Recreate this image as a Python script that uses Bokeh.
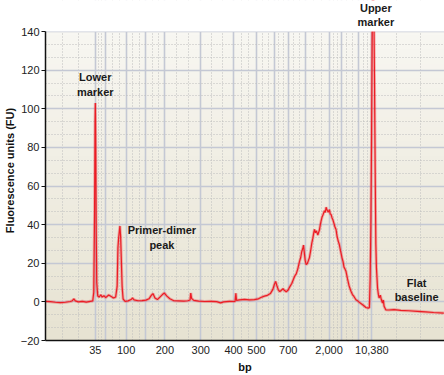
import numpy as np
from bokeh.plotting import figure
from bokeh.models import FixedTicker, Label, Range1d
from bokeh.embed import file_html
from bokeh.resources import INLINE

# Ladder: fragment sizes (bp) and their migration positions (s)
ladder_bp = [35, 50, 100, 150, 200, 300, 400, 500, 600, 700, 1000, 2000, 3000, 7000, 10380]
ladder_time = [50.0, 52.0, 56.2, 60.2, 64.0, 71.2, 77.8, 82.4, 86.0, 88.8, 92.2, 97.0, 99.4, 103.0, 105.6]
labelled_bp = {35: "35", 100: "100", 200: "200", 300: "300", 400: "400",
               500: "500", 700: "700", 2000: "2,000", 10380: "10,380"}

# Electropherogram trace: migration time (s) and fluorescence (FU)
trace_time = [40.0, 41.0, 42.0, 43.0, 44.0, 45.0, 45.4, 45.7, 46.0, 46.6, 47.4, 48.2, 49.0, 49.5,
              49.7, 49.86, 49.96, 50.02, 50.1, 50.2, 50.3, 50.5, 50.8, 51.1, 51.4, 51.74, 52.1, 52.7,
              53.2, 53.7, 54.1, 54.4, 54.56, 54.7, 54.86, 54.96, 55.1, 55.24, 55.4, 55.6, 56.0, 56.6,
              57.2, 57.5, 57.8, 58.6, 59.4, 60.2, 60.8, 61.3, 61.6, 62.0, 62.5, 63.0, 63.5, 63.9,
              64.4, 65.0, 65.8, 66.8, 67.8, 68.6, 69.06, 69.2, 69.36, 69.8, 70.8, 72.0, 73.2, 74.4,
              75.2, 75.8, 77.0, 78.1, 78.26, 78.4, 79.0, 80.0, 81.0, 82.0, 82.8, 83.4, 84.0, 84.6,
              85.2, 85.7, 86.0, 86.26, 86.5, 86.8, 87.1, 87.4, 87.74, 88.0, 88.4, 88.8, 89.1, 89.5,
              89.8, 90.1, 90.4, 90.7, 91.06, 91.3, 91.5, 91.7, 91.86, 92.0, 92.2, 92.4, 92.6, 92.86,
              93.06, 93.3, 93.5, 93.74, 93.9, 94.06, 94.26, 94.46, 94.74, 94.9, 95.06, 95.24, 95.4,
              95.6, 95.8, 96.06, 96.24, 96.4, 96.6, 96.86, 97.06, 97.24, 97.4, 97.6, 97.74, 98.0,
              98.2, 98.4, 98.6, 98.84, 99.06, 99.3, 99.6, 99.8, 100.0, 100.2, 100.4, 100.7, 101.0,
              101.4, 101.7, 102.0, 102.4, 102.8, 103.2, 103.6, 104.0, 104.4, 104.86, 105.1,
              105.26, 105.4, 105.54, 105.66, 105.76, 105.9, 106.04, 106.14, 106.26, 106.4, 106.52,
              106.74, 106.9, 107.06, 107.3, 107.5, 107.74, 107.9, 108.06, 108.4, 109.0, 110.06,
              111.4, 113.0, 114.74, 116.4, 118.0, 120.06]
trace_fu = [0.3, 0.1, -0.2, -0.4, -0.2, 0.2, 0.6, 1.6, 0.5, 0.0, 0.3, -0.1, 0.3, 0.5,
            5, 45, 93, 103, 80, 35, 10, 3, 2.5, 3.7, 2.5, 3.2, 2.2, 3.6,
            2.8, 2.0, 2.5, 8, 28, 33, 37, 39.3, 34, 22, 8, 1.5, 0.3, 0.5,
            1.2, 2.0, 1.0, 0.6, 0.7, 0.9, 1.6, 3.5, 4.3, 2.0, 1.2, 2.5, 3.8, 4.6,
            3.0, 1.6, 0.6, 0.5, 0.4, 0.6, 1.0, 4.6, 1.8, 0.8, 0.4, 0.2, 0.3, 0.1,
            -0.5, 0.0, 0.3, 0.2, 4.5, 0.8, 1.0, 1.3, 1.0, 1.2, 1.6, 2.4, 3.0, 3.4,
            4.3, 6.5, 9.0, 10.6, 8.5, 6.2, 5.3, 6.0, 6.8, 6.0, 5.2, 6.3, 7.8, 9.5,
            11.5, 13.4, 14.5, 17, 21, 23, 26, 27.5, 29.4, 26, 21.5, 19.3, 19.8, 21.5,
            23, 26.5, 30, 33, 35.5, 37.5, 35.8, 36.8, 34.6, 36, 37.2, 40, 42,
            44, 45.2, 47.2, 46.3, 49, 47.5, 46.5, 47.8, 45.5, 45.3, 43.5, 42.7, 40.5,
            38.6, 37.5, 34, 31.5, 29.7, 26.5, 22.8, 21, 18, 17, 15.8, 12, 8.5,
            5.5, 3.8, 2.8, 1.1, 0.4, -0.5, -1.2, -2.0, -2.9, -3.2, -3.0,
            12, 40, 85, 135, 160, 165, 140, 112, 70, 30, 17.6,
            7.2, 4.0, 2.0, 3.5, 1.2, -0.6, 1.0, -2.3, -4.1, -4.2, -4.0,
            -4.4, -4.6, -4.9, -5.2, -5.5, -5.8]

y_ticks = [-20, 0, 20, 40, 60, 80, 100, 120, 140]
x_start, x_end = 40.0, 120.2
y_start, y_axis_top = -20, 140
y_end = 156.1  # headroom above the axis for the "Upper marker" note

FONT = "Liberation Sans"
RED = "#ec1c24"

p = figure(width=444, height=375, output_backend="svg", toolbar_location=None,
           x_range=Range1d(x_start, x_end), y_range=Range1d(y_start, y_end),
           min_border_top=0, min_border_right=0, min_border_left=0, min_border_bottom=0)
p.outline_line_color = None
p.border_fill_color = "white"
p.background_fill_color = "white"

# vertical gradient background (beige) up to the top of the axis
top = np.array([248, 247, 242])
bot = np.array([231, 227, 210])
n = 64
img = np.zeros((n, 1), dtype=np.uint32)
view = img.view(dtype=np.uint8).reshape((n, 1, 4))
for i in range(n):
    c = bot + (top - bot) * i / (n - 1)
    view[i, 0, 0:3] = c.astype(np.uint8)
    view[i, 0, 3] = 255
bg = p.image_rgba(image=[img], x=x_start, y=y_start, dw=x_end - x_start, dh=y_axis_top - y_start)
bg.level = "image"

# tickers: solid lines at ladder positions, dotted at thirds between them
xs_all = [x_start] + ladder_time + [x_end]
x_minor = []
for a, b in zip(xs_all[:-1], xs_all[1:]):
    x_minor += [a + (b - a) / 3, a + 2 * (b - a) / 3]
y_minor = []
for a, b in zip(y_ticks[:-1], y_ticks[1:]):
    y_minor += [a + (b - a) / 3, a + 2 * (b - a) / 3]

p.xaxis.ticker = FixedTicker(ticks=ladder_time, minor_ticks=x_minor)
p.yaxis.ticker = FixedTicker(ticks=y_ticks, minor_ticks=y_minor)
p.xaxis.major_label_overrides = {t: labelled_bp.get(bp, "") for t, bp in zip(ladder_time, ladder_bp)}
p.yaxis.major_label_overrides = {v: ("\u221220" if v == -20 else str(v)) for v in y_ticks}
p.yaxis.bounds = (y_start, y_axis_top)

for g in (p.xgrid, p.ygrid):
    g.grid_line_color = "#c4c8d4"
    g.grid_line_width = 1.6
    g.minor_grid_line_color = "#bdbdbd"
    g.minor_grid_line_dash = "1 2"
    g.minor_grid_line_width = 1

for ax in (p.xaxis, p.yaxis):
    ax.axis_line_color = "#111111"
    ax.axis_line_width = 1.5
    ax.minor_tick_in = 0
    ax.minor_tick_out = 0
    ax.major_label_text_font = FONT
    ax.major_label_text_font_size = "11px"
    ax.major_label_text_color = "#222222"
    ax.axis_label_text_font = FONT
    ax.axis_label_text_font_size = "11px"
    ax.axis_label_text_font_style = "bold"
    ax.axis_label_text_color = "#111111"

p.xaxis.major_tick_in = 0
p.xaxis.major_tick_out = 0
p.xaxis.major_label_standoff = 5
p.xaxis.axis_label = "bp"
p.xaxis.axis_label_standoff = 4
p.yaxis.major_tick_in = 0
p.yaxis.major_tick_out = 4
p.yaxis.major_tick_line_color = "#111111"
p.yaxis.major_label_standoff = 2
p.yaxis.axis_label = "Fluorescence units (FU)"
p.yaxis.axis_label_standoff = 2

# trace: faint halo + line
p.line(trace_time, trace_fu, line_color=RED, line_width=3, line_alpha=0.3)
p.line(trace_time, trace_fu, line_color=RED, line_width=1.2)

# white band above the axis top (the trace is cut off at 140 FU)
p.quad(left=x_start - 5, right=x_end + 5, bottom=y_axis_top, top=y_end + 20,
       fill_color="white", line_color=None)

ann = [("Lower", 50.0, 116.6), ("marker", 50.0, 108.8),
       ("Primer-dimer", 63.4, 37.1), ("peak", 63.4, 29.4),
       ("Upper", 106.4, 152.0), ("marker", 106.4, 145.2),
       ("Flat", 114.6, 9.8), ("baseline", 114.6, 2.3)]
for txt, x, y in ann:
    p.add_layout(Label(x=x, y=y, text=txt, text_align="center", text_baseline="middle",
                       text_font=FONT, text_font_size="11px", text_font_style="bold",
                       text_color="#1a1a1a"))

open("out.html", "w").write(file_html(p, INLINE))
